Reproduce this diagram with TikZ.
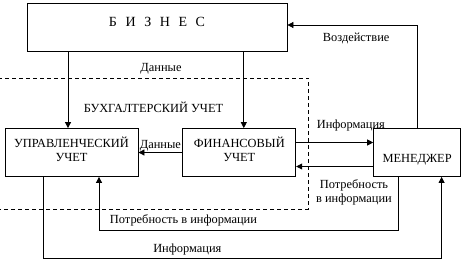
\documentclass[tikz,border=0pt]{standalone}
\usepackage{fontspec}
\setmainfont{Liberation Serif}
\usetikzlibrary{positioning,arrows.meta,calc}

\begin{document}
\begin{tikzpicture}[
    font=\fontsize{12.4}{14}\selectfont,
    block/.style={
        draw,
        line width=0.8pt,
        minimum height=48pt,
        inner sep=2pt,
        align=center
    },
    twoline/.style={block, text height=18pt, text depth=0pt},
    arrow/.style={-{Triangle[length=6pt,width=6pt]}, line width=0.8pt},
    lbl/.style={inner sep=1pt, align=center},
    frame/.style={dash pattern=on 4pt off 3pt, line width=0.8pt}
]
\useasboundingbox (0,0) rectangle (462pt,-264pt);

% ============================================================
% БИЗНЕС
% ============================================================
\node[block, minimum width=260pt, font=\fontsize{14}{16}\selectfont,
      text height=10pt, text depth=10pt] (biz) at (157pt,-27pt)
      {Б\hspace{8.6pt}И\hspace{8.6pt}З\hspace{8.6pt}Н\hspace{8.6pt}Е\hspace{8.6pt}С};

% ============================================================
% БУХГАЛТЕРСКИЙ УЧЕТ
% ============================================================
\node[twoline, minimum width=133pt] (upr) at (71.5pt,-152.5pt) {УПРАВЛЕНЧЕСКИЙ\\УЧЕТ};
\node[twoline, minimum width=113pt, right=44pt of upr] (fin) {ФИНАНСОВЫЙ\\УЧЕТ};
\node[block, minimum width=87pt, text height=20pt, text depth=0pt, right=77pt of fin] (men) {МЕНЕДЖЕР};

\draw[frame] (-2pt,-78pt) -- (308.5pt,-78pt) -- (308.5pt,-209pt) -- (-2pt,-209pt);
\node[lbl] (acct) at (153.5pt,-107.5pt) {БУХГАЛТЕРСКИЙ УЧЕТ};

% входы и выходы стрелок
\coordinate (uprIn) at ([xshift=-3.5pt]upr.north);
\coordinate (finIn) at ([xshift=4.5pt]fin.north);
\coordinate (finOut) at ([yshift=10pt]fin.east);
\coordinate (menOut) at ([yshift=-14pt]men.west);
\coordinate (menNeed) at ([xshift=-18.5pt]men.south);
\coordinate (menIn) at ([xshift=24.5pt]men.south);
\coordinate (uprOut) at ([xshift=-28.5pt]upr.south);
\coordinate (uprNeed) at ([xshift=27.5pt]upr.south);
\coordinate (bizIn) at ([yshift=2pt]biz.east);

% данные из бизнеса
\draw[arrow] (biz.south -| uprIn) -- (uprIn);
\draw[arrow] (biz.south -| finIn) -- (finIn);
\node[lbl] (dataTop) at (161pt,-69pt) {Данные};

\draw[arrow] (fin.west) -- node[lbl, above] (dataMid) {Данные} (upr.east);

% финансовый учет <-> менеджер
\draw[arrow] (finOut) -- node[lbl, above=10pt, pos=0.71] (infoTop) {Информация} (finOut -| men.west);
\draw[arrow] (menOut) -- node[lbl, below=12pt, pos=0.25] (needRight) {Потребность\\в информации} (menOut -| fin.east);

% обратная связь
\draw[arrow] (men.north) |- node[lbl, below=7pt, pos=0.735] (act) {Воздействие} (bizIn);
\draw[arrow] (menNeed) -- ++(0,-53.5pt) -| node[lbl, above=3pt, pos=0.359] (needBottom) {Потребность в информации} (uprNeed);
\draw[arrow] (uprOut) -- ++(0,-81.5pt) -| node[lbl, above=2pt, pos=0.181] (infoBottom) {Информация} (menIn);

\end{tikzpicture}
\end{document}
